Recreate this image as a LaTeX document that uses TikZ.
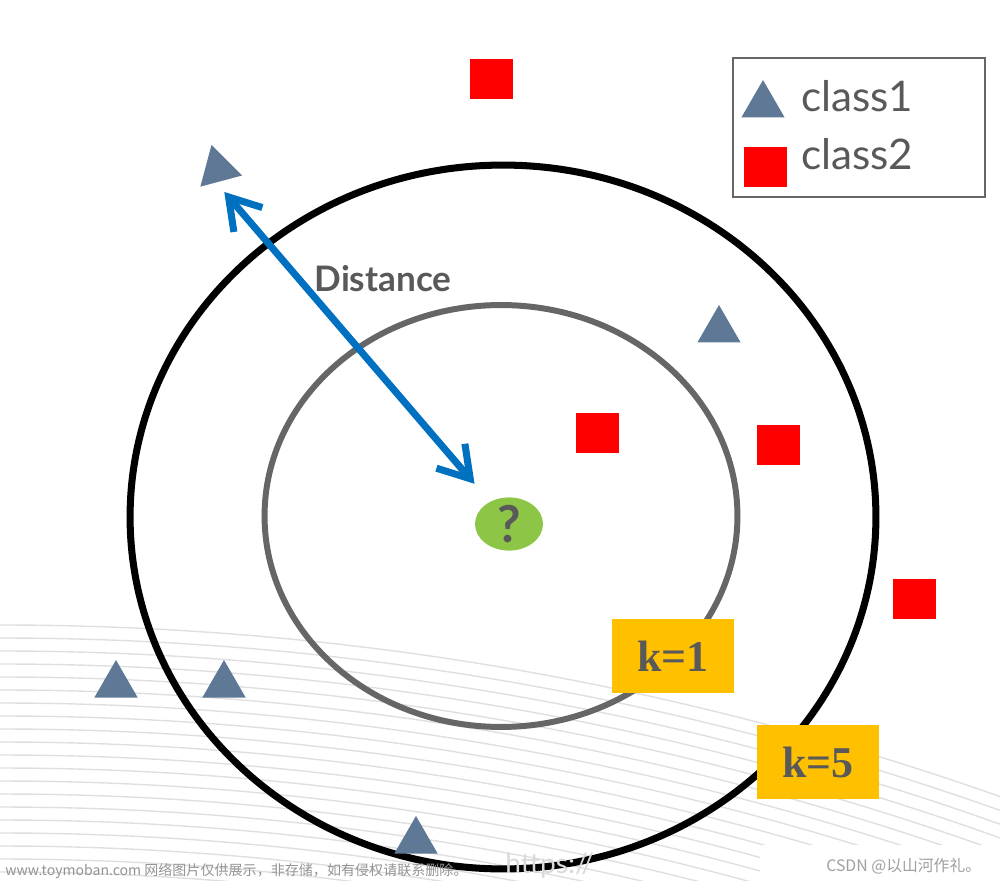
\documentclass[tikz,border=0pt]{standalone}
\usepackage{fontspec}
\setmainfont{Lato}
\newfontfamily\kfont{Liberation Serif}
\newfontfamily\cjkfont{Noto Sans CJK SC}
\usepackage{tikz}
\usetikzlibrary{arrows.meta,shapes.geometric}
\definecolor{triblue}{RGB}{94,120,150}
\definecolor{sqred}{RGB}{255,0,0}
\definecolor{distblue}{RGB}{0,112,192}
\definecolor{kgold}{RGB}{255,192,0}
\definecolor{qgreen}{RGB}{141,198,70}
\definecolor{txtgray}{RGB}{89,89,89}
\definecolor{ringgray}{RGB}{102,102,102}

\begin{document}
\begin{tikzpicture}[
x=0.02cm, y=-0.02cm,% one unit = one pixel of the reference
    tri/.style = {regular polygon, regular polygon sides=3, fill=triblue,% class1 points
                  minimum size=1cm, inner sep=0pt},
     sq/.style = {rectangle, fill=sqred,% class2 points
                  minimum width=0.86cm, minimum height=0.8cm, inner sep=0pt},
   kbox/.style = {rectangle, fill=kgold, minimum width=2.44cm, minimum height=1.48cm,
                  text=txtgray, font=\kfont\bfseries\fontsize{25}{30}\selectfont},
legtext/.style = {anchor=base west, inner sep=0pt, text=txtgray,
                  font=\fontsize{24}{28}\selectfont},
 bgline/.style = {gray!25, line width=0.8pt},
                        ]
\clip (0,0) rectangle (1000,881);
% faint background curves
\foreach \k in {0,...,19}
    \draw[bgline] plot[domain=0:1000, samples=60, smooth]
        (\x, {3625-100*sqrt((30-0.13*\k)^2-(\x/100)^2)});
\fill[white] (760,845) rectangle (1000,881);
% the two neighbourhoods
\draw[line width=4pt] (503,517) ellipse [x radius=7.46cm, y radius=7.04cm];
\draw[ringgray, line width=3.4pt] (501,516) ellipse [x radius=4.73cm, y radius=4.22cm];
% points
\node[tri, rotate=15] (tri-a) at (218,169) {};
\node[tri] (tri-b) at (719,330) {};
\node[tri] (tri-c) at (116,685) {};
\node[tri] (tri-d) at (224,685) {};
\node[tri] (tri-e) at (416,841) {};
\node[sq] (sq-a) at (491,79) {};
\node[sq] (sq-b) at (597,433) {};
\node[sq] (sq-c) at (778,445) {};
\node[sq] (sq-d) at (914,599) {};
\node[ellipse, fill=qgreen, minimum width=1.36cm, minimum height=1cm, inner sep=0pt,
      text=txtgray, font=\bfseries\fontsize{29}{29}\selectfont] (query) at (509,524) {?};
\draw[distblue, line width=4pt,
      {Straight Barb[length=6mm,width=7.5mm]}-{Straight Barb[length=6mm,width=7.5mm]},
      shorten <=0.5cm, shorten >=1.06cm] ([shift={(-10,4)}]tri-a.center) -- (query.center);
\node[text=txtgray, font=\bfseries\fontsize{20}{24}\selectfont] (dist) at (383,279) {Distance};
\node[kbox] (k-one) at (673,656) {k=1};
\node[kbox] (k-five) at (818,762) {k=5};
% legend
\draw[ringgray, line width=1.2pt] (733,58) rectangle (985,197);
\node[tri] (leg-tri) at (763,105) {};
\node[sq] (leg-sq) at (765,167) {};
\node[legtext] (leg-one) at (801,112) {class1};
\node[legtext] (leg-two) at (801,170) {class2};
% watermarks
\node[anchor=west, inner sep=0pt, text=gray!85,
      font=\cjkfont\fontsize{8}{8}\selectfont] (wm-site) at (5,871)
      {www.toymoban.com 网络图片仅供展示，非存储，如有侵权请联系删除。};
\node[anchor=west, inner sep=0pt, text=gray!30,
      font=\fontsize{16}{16}\selectfont] (wm-url) at (505,866) {https://};
\node[anchor=west, inner sep=0pt, text=gray!75,
      font=\cjkfont\fontsize{9}{9}\selectfont] (wm-csdn) at (826,866) {CSDN @以山河作礼。};
\end{tikzpicture}
\end{document}
